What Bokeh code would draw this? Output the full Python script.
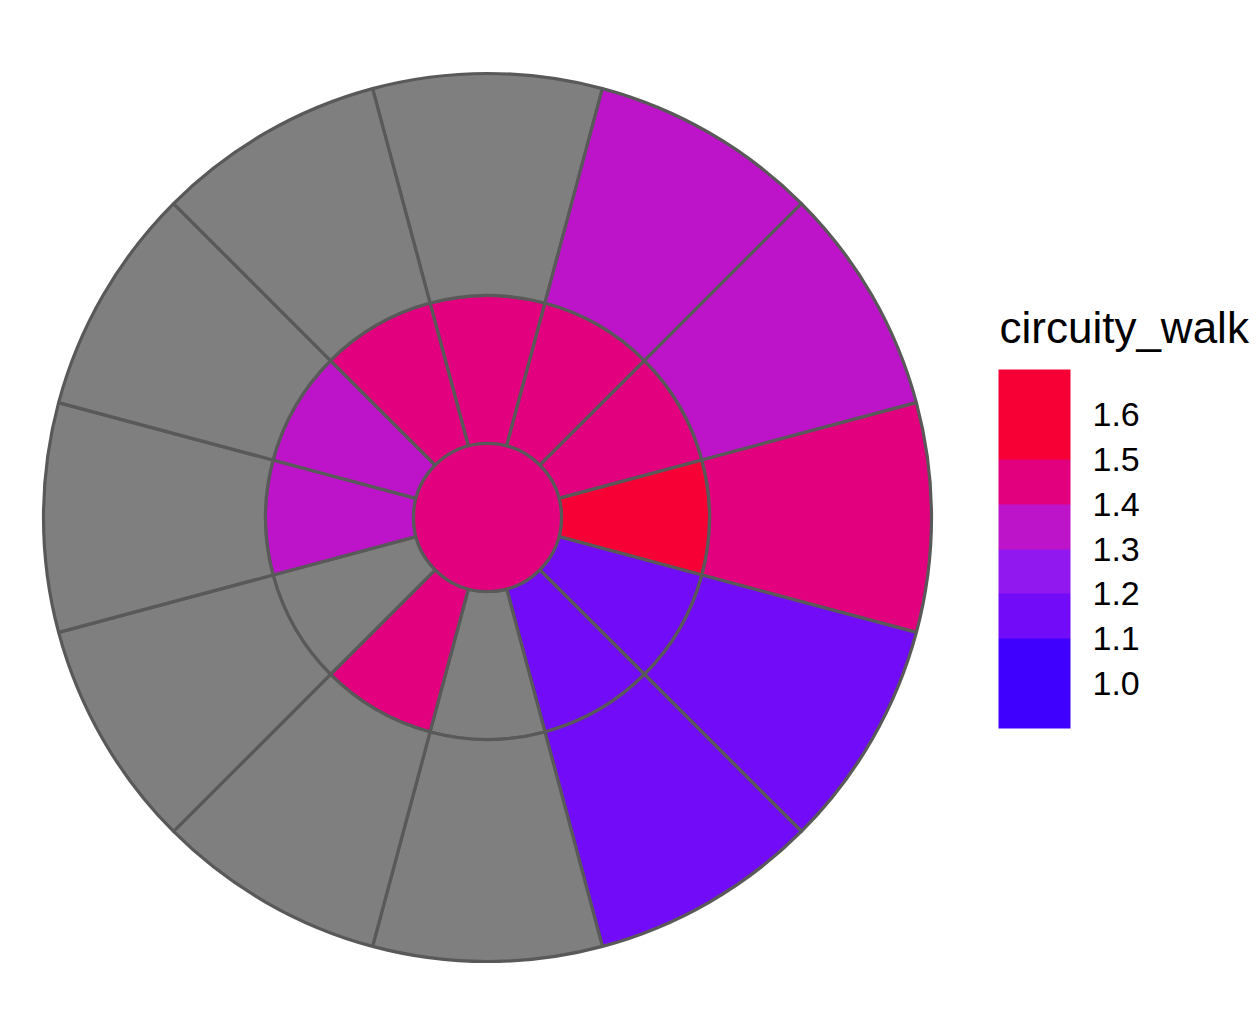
import numpy as np
from bokeh.plotting import figure
from bokeh.models import ColumnDataSource, ColorBar, LinearColorMapper, FixedTicker, PrintfTickFormatter, Label
from bokeh.transform import transform
from bokeh.embed import file_html
from bokeh.resources import INLINE

# ---- data (sectors clockwise from 12 o'clock) ----
sectors = list(range(1, 13))
outer_values = [np.nan, 1.35, 1.35, 1.45, 1.15, 1.15, np.nan, np.nan, np.nan, np.nan, np.nan, np.nan]
inner_values = [1.45, 1.45, 1.45, 1.62, 1.15, 1.15, np.nan, 1.45, np.nan, 1.35, 1.35, 1.45]
center_value = 1.45
ring_levels = ["inner", "outer"]
ring_ymin = [1, 3]
ring_ymax = [3, 6]
center_ymax = 1

legend_title = "circuity_walk"
legend_ticks = [1.0, 1.1, 1.2, 1.3, 1.4, 1.5, 1.6]
legend_low, legend_high = 0.9, 1.7
palette = ["#4000FE", "#4000FE", "#720BF7", "#9118EF", "#BD14C9", "#E3007E", "#F70036", "#F70036"]
NA_COLOR = "#7F7F7F"
EDGE = "#595959"

mapper = LinearColorMapper(palette=palette, low=legend_low, high=legend_high, nan_color=NA_COLOR)

W, H = 1259, 1034
cx_px, cy_px = 487, 517
scale = 74.0  # px per data unit
p = figure(width=W, height=H, output_backend="svg", toolbar_location=None,
           x_range=(-cx_px / scale, (W - cx_px) / scale),
           y_range=(-(H - cy_px) / scale, cy_px / scale),
           x_axis_location=None, y_axis_location=None, min_border=0)
p.grid.visible = False
p.outline_line_color = None
p.background_fill_color = "white"

n = len(sectors)
step = 360.0 / n
centers_deg = [90 - step * (s - 1) for s in sectors]

for lvl, rmin, rmax, vals in zip(ring_levels, ring_ymin, ring_ymax, [inner_values, outer_values]):
    src = ColumnDataSource(dict(
        x=[0] * n, y=[0] * n,
        start=[np.deg2rad(c - step / 2) for c in centers_deg],
        end=[np.deg2rad(c + step / 2) for c in centers_deg],
        value=vals,
    ))
    p.annular_wedge(x="x", y="y", inner_radius=rmin, outer_radius=rmax,
                    start_angle="start", end_angle="end", source=src,
                    fill_color=transform("value", mapper), line_color=EDGE, line_width=3.2)

csrc = ColumnDataSource(dict(x=[0], y=[0], value=[center_value]))
p.circle(x="x", y="y", radius=center_ymax, source=csrc,
         fill_color=transform("value", mapper), line_color=EDGE, line_width=3.2)

cb = ColorBar(color_mapper=mapper, location=(998, 306), width=72, height=359,
              ticker=FixedTicker(ticks=legend_ticks),
              formatter=PrintfTickFormatter(format="%.1f"),
              title=None,
              major_label_text_font="Liberation Sans", major_label_text_font_size="34px",
              major_label_text_color="black", label_standoff=22,
              major_tick_line_color=None, minor_tick_line_color=None,
              bar_line_color=None, border_line_color=None,
              background_fill_alpha=0, padding=0, margin=0)
p.add_layout(cb, "center")

title = Label(x=999, y=H - 327, x_units="screen", y_units="screen", text=legend_title,
              text_font="Liberation Sans", text_font_size="44px", text_color="black",
              text_baseline="alphabetic", text_align="left")
p.add_layout(title)

open("out.html", "w").write(file_html(p, INLINE))
